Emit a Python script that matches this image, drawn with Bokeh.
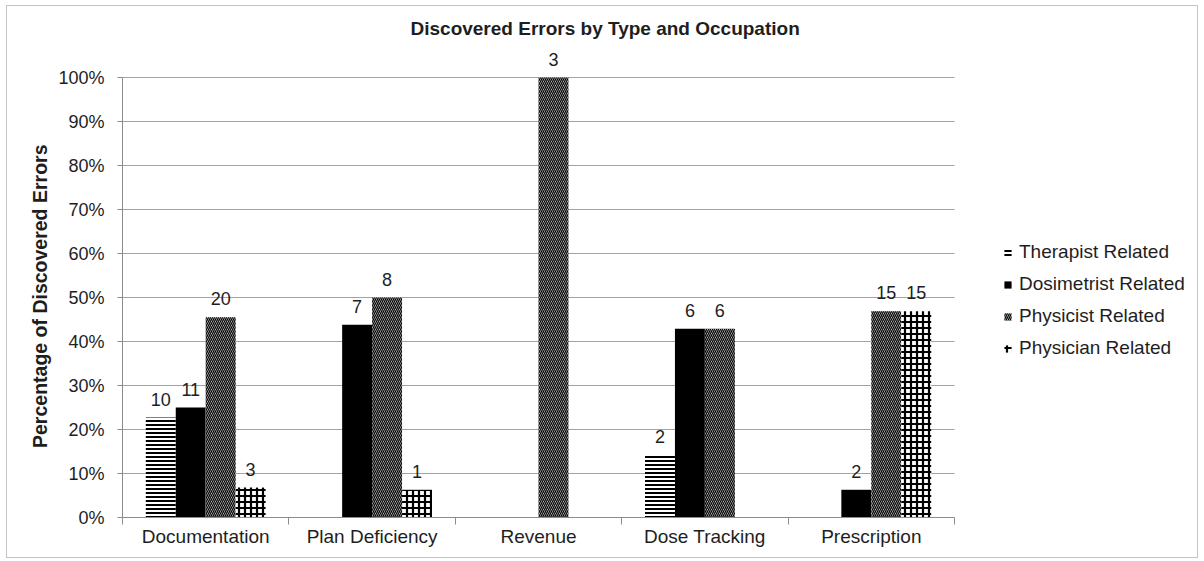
from bokeh.plotting import figure
from bokeh.models import (ColumnDataSource, Range1d, FixedTicker, LabelSet,
                          Legend, LegendItem, PrintfTickFormatter, Title)
from bokeh.core.properties import value
from bokeh.transform import dodge
from bokeh.embed import file_html
from bokeh.resources import INLINE

# ---------------- data ----------------
categories = ["Documentation", "Plan Deficiency", "Revenue", "Dose Tracking", "Prescription"]
series_names = ["Therapist Related", "Dosimetrist Related", "Physicist Related", "Physician Related"]

# percentage of discovered errors (per error type)
therapist_pct = [22.7, 0.0, 0.0, 14.3, 0.0]
dosimetrist_pct = [25.0, 43.8, 0.0, 42.9, 6.3]
physicist_pct = [45.5, 50.0, 100.0, 42.9, 46.9]
physician_pct = [6.8, 6.3, 0.0, 0.0, 46.9]

# counts shown above the bars ("" = no label)
therapist_n = ["10", "", "", "2", ""]
dosimetrist_n = ["11", "7", "", "6", "2"]
physicist_n = ["20", "8", "3", "6", "15"]
physician_n = ["3", "1", "", "", "15"]

y_ticks = [0, 10, 20, 30, 40, 50, 60, 70, 80, 90, 100]

# ---------------- layout constants ----------------
FONT = "Liberation Sans"
TXT = "#1e1e1e"
GRID = "#a3a3a3"
AXIS = "#8c8c8c"

W, H = 1192, 553
LEFT, TOP, BOTTOM, RIGHT = 115, 36, 42, 1
PLOT_PX = 832                       # width of the category area in pixels
PLOT_PY = 440                       # height of the 0-100 % area in pixels
FRAME_PX = W - LEFT - RIGHT         # frame extends under the legend area
FRAME_PY = H - TOP - BOTTOM         # and above 100 % (for the value labels)
ncat = len(categories)
x_end = ncat * FRAME_PX / PLOT_PX
y_end = 100 * FRAME_PY / PLOT_PY

p = figure(width=W, height=H, x_range=Range1d(0, x_end), y_range=Range1d(0, y_end),
           output_backend="svg", toolbar_location=None,
           min_border_left=LEFT, min_border_right=RIGHT, min_border_top=TOP,
           min_border_bottom=BOTTOM)
p.styles = {"border": "1px solid #c4c4c4", "margin-left": "6px", "margin-top": "5px"}
p.outline_line_color = None
p.background_fill_color = "white"
p.border_fill_color = "white"

p.title = Title(text="Discovered Errors by Type and Occupation", text_font=FONT,
                text_font_size="19px", text_font_style="bold", text_color=TXT,
                align="left", offset=288, standoff=8)

# gridlines limited to the category area
p.xgrid.grid_line_color = None
p.ygrid.grid_line_color = None
p.segment(x0=[0] * len(y_ticks), x1=[ncat] * len(y_ticks), y0=y_ticks, y1=y_ticks,
          line_color=GRID, line_width=1)

centers = [i + 0.5 for i in range(ncat)]

width = 0.18
offsets = [-0.27, -0.09, 0.09, 0.27]
pcts = [therapist_pct, dosimetrist_pct, physicist_pct, physician_pct]
labels = [therapist_n, dosimetrist_n, physicist_n, physician_n]

styles = [
    dict(fill_color="white", hatch_pattern="horizontal_line", hatch_color="black",
         hatch_scale=4, hatch_weight=2),
    dict(fill_color="black"),
    dict(fill_color="#e2e2e2", hatch_pattern="left_diagonal_line", hatch_color="black",
         hatch_scale=4, hatch_weight=1.3),
    dict(fill_color="white", hatch_pattern="cross", hatch_color="black",
         hatch_scale=6, hatch_weight=2.2),
]

items = []
for k in range(4):
    src = ColumnDataSource(dict(x=centers, top=pcts[k]))
    r = p.vbar(x=dodge("x", offsets[k], range=p.x_range), top="top", width=width,
               bottom=0, source=src, line_color=None, **styles[k])
    items.append(LegendItem(label=series_names[k], renderers=[r]))
    keep = [i for i, t in enumerate(labels[k]) if t]
    lsrc = ColumnDataSource(dict(x=[centers[i] for i in keep], top=[pcts[k][i] for i in keep],
                                 lab=[labels[k][i] for i in keep]))
    ls = LabelSet(x=dodge("x", offsets[k], range=p.x_range), y="top", text="lab", source=lsrc,
                  text_align="center", text_baseline="alphabetic", y_offset=12,
                  text_font=value(FONT), text_font_size="18px", text_color=TXT)
    p.add_layout(ls)

# ---------------- axes ----------------
ya = p.yaxis[0]
ya.bounds = (0, 100)
ya.ticker = FixedTicker(ticks=y_ticks)
ya.formatter = PrintfTickFormatter(format="%d%%")
ya.axis_line_color = AXIS
ya.major_tick_line_color = AXIS
ya.major_tick_out = 5
ya.major_tick_in = 0
ya.minor_tick_line_color = None
ya.major_label_standoff = 13
ya.major_label_text_font = FONT
ya.major_label_text_font_size = "18px"
ya.major_label_text_color = TXT
# trailing no-break spaces keep the label centred on the 0-100 % span
ya.axis_label = "Percentage of Discovered Errors" + "\u00a0" * 6
ya.axis_label_text_font = FONT
ya.axis_label_text_font_size = "19.5px"
ya.axis_label_text_font_style = "bold"
ya.axis_label_text_color = TXT
ya.axis_label_standoff = 4

xa = p.xaxis[0]
xa.bounds = (0, ncat)
xa.ticker = FixedTicker(ticks=centers, minor_ticks=list(range(ncat + 1)))
xa.major_label_overrides = {c: n for c, n in zip(centers, categories)}
xa.axis_line_color = AXIS
xa.major_tick_line_color = None
xa.major_tick_out = 0
xa.major_tick_in = 0
xa.minor_tick_line_color = AXIS
xa.minor_tick_out = 7
xa.minor_tick_in = 0
xa.major_label_standoff = 1
xa.major_label_text_font = FONT
xa.major_label_text_font_size = "19px"
xa.major_label_text_color = TXT

legend = Legend(items=items, location=(881, 158), orientation="vertical",
                glyph_width=9, glyph_height=9, label_height=21, spacing=10, padding=0,
                margin=0, label_standoff=7, border_line_color=None, background_fill_alpha=0,
                label_text_font=FONT, label_text_font_size="19px", label_text_color=TXT)
p.add_layout(legend)

open("out.html", "w").write(file_html(p, INLINE))
